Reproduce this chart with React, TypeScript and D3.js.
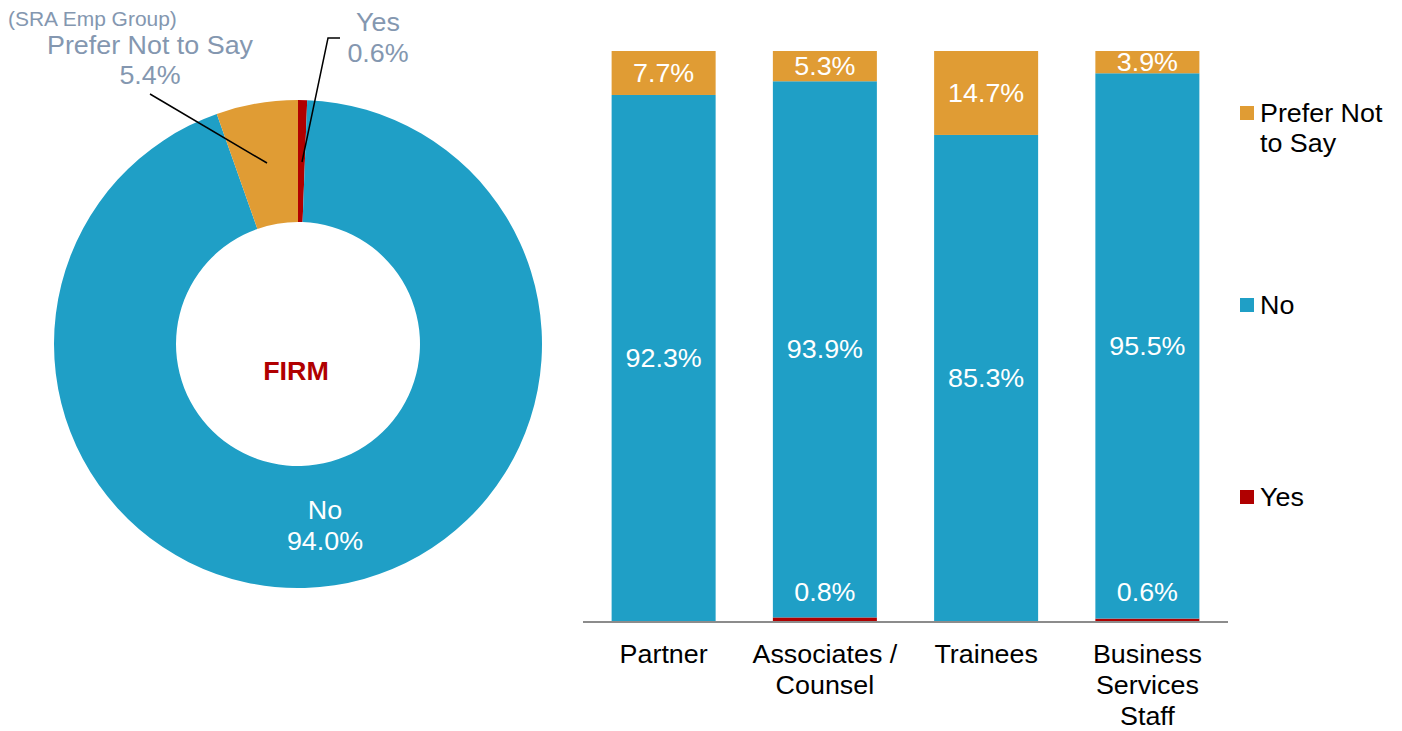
import * as d3 from "d3";

// donut (whole firm)
const pieCategories = ["Yes", "No", "Prefer Not to Say"];
const pieValues = [0.6, 94.0, 5.4];

// stacked bars by group
const groups = ["Partner", "Associates / Counsel", "Trainees", "Business Services Staff"];
const groupLines = [["Partner"], ["Associates /", "Counsel"], ["Trainees"], ["Business", "Services", "Staff"]];
const yesValues = [0, 0.8, 0, 0.6];
const noValues = [92.3, 93.9, 85.3, 95.5];
const preferValues = [7.7, 5.3, 14.7, 3.9];

const seriesKeys = ["Yes", "No", "Prefer Not to Say"];
const legendLines = [["Yes"], ["No"], ["Prefer Not", "to Say"]];

const colors: { [k: string]: string } = {
  Yes: "#b00000",
  No: "#1f9fc6",
  "Prefer Not to Say": "#e09c34",
};

const FONT = "'Liberation Sans', Arial, sans-serif";
const GREY = "#8497b0";
const SX = 1.075; // the original text is slightly wide

// text drawn a touch wider than the font, like the source
const T = (props: {
  x: number;
  y: number;
  children: any;
  size?: number;
  fill?: string;
  anchor?: string;
  weight?: string;
}) => (
  <text
    transform={`translate(${props.x},${props.y}) scale(${SX},1)`}
    fontSize={props.size || 25}
    fill={props.fill || "#000"}
    textAnchor={props.anchor || "middle"}
    fontWeight={props.weight || "normal"}
  >
    {props.children}
  </text>
);

export default function App() {
  const width = 1402;
  const height = 731;

  // donut geometry
  const cx = 298;
  const cy = 344;
  const pie = d3
    .pie<number>()
    .sort(null)
    .value((d) => d);
  const slices = pie(pieValues);
  const arc = d3.arc<d3.PieArcDatum<number>>().innerRadius(122).outerRadius(244);

  // bar geometry
  const x = d3.scaleBand().domain(groups).range([583, 1228]).paddingInner(0.355).paddingOuter(0.1775);
  const y = d3.scaleLinear().domain([0, 100]).range([622, 51]);

  const table = groups.map((g, i) => ({
    group: g,
    Yes: yesValues[i],
    No: noValues[i],
    "Prefer Not to Say": preferValues[i],
  }));
  const stack = d3.stack<any>().keys(seriesKeys)(table);

  const fmt = (v: number) => v.toFixed(1) + "%";

  return (
    <svg width={width} height={height} style={{ display: "block", position: "absolute", left: 0, top: 0 }} fontFamily={FONT}>
      {/* donut */}
      <g transform={`translate(${cx},${cy})`}>
        {slices.map((s, i) => (
          <path key={i} d={arc(s) as string} fill={colors[pieCategories[i]]} />
        ))}
      </g>
      <T x={cx - 2} y={380} weight="bold" fill="#b00000">
        FIRM
      </T>
      <T x={325} y={519} fill="#fff">
        No
      </T>
      <T x={325} y={550} fill="#fff">
        {fmt(pieValues[1])}
      </T>

      {/* outside labels */}
      <T x={8} y={26} size={19.5} fill={GREY} anchor="start">
        (SRA Emp Group)
      </T>
      <T x={150} y={54} fill={GREY}>
        Prefer Not to Say
      </T>
      <T x={150} y={84} fill={GREY}>
        {fmt(pieValues[2])}
      </T>
      <polyline points="150,94 267,163" fill="none" stroke="#000" strokeWidth={1.5} />
      <T x={378} y={31} fill={GREY}>
        Yes
      </T>
      <T x={378} y={62} fill={GREY}>
        {fmt(pieValues[0])}
      </T>
      <polyline points="340,38 328,38 302,162" fill="none" stroke="#000" strokeWidth={1.5} />

      {/* stacked bars */}
      {stack.map((layer) => (
        <g key={layer.key}>
          {layer.map((d, i) => (
            <rect
              key={i}
              x={x(groups[i])}
              y={y(d[1])}
              width={x.bandwidth()}
              height={Math.max(0, y(d[0]) - y(d[1]))}
              fill={colors[layer.key]}
            />
          ))}
        </g>
      ))}
      {/* bar labels */}
      {table.map((row, i) => {
        const cxBar = (x(row.group) as number) + x.bandwidth() / 2;
        const noMid = y(row.Yes + row.No / 2);
        const prMid = y(row.Yes + row.No + row["Prefer Not to Say"] / 2);
        return (
          <g key={row.group}>
            <T x={cxBar} y={noMid + 9} fill="#fff">
              {fmt(row.No)}
            </T>
            <T x={cxBar} y={prMid + 9} fill="#fff">
              {fmt(row["Prefer Not to Say"])}
            </T>
            {row.Yes > 0 && (
              <T x={cxBar} y={y(0) - 21} fill="#fff">
                {fmt(row.Yes)}
              </T>
            )}
          </g>
        );
      })}
      <line x1={583} x2={1228} y1={y(0)} y2={y(0)} stroke="#8c8c8c" strokeWidth={2} />
      {groupLines.map((lines, i) =>
        lines.map((l, j) => (
          <T key={i + "-" + j} x={(x(groups[i]) as number) + x.bandwidth() / 2} y={663 + j * 31}>
            {l}
          </T>
        ))
      )}

      {/* legend */}
      {[
        { key: "Prefer Not to Say", y: 113 },
        { key: "No", y: 305 },
        { key: "Yes", y: 497 },
      ].map((item) => {
        const lines = legendLines[seriesKeys.indexOf(item.key)];
        return (
          <g key={item.key}>
            <rect x={1240} y={item.y - 7} width={14} height={14} fill={colors[item.key]} />
            {lines.map((l, j) => (
              <T key={j} x={1260} y={item.y + 9 + j * 30} anchor="start">
                {l}
              </T>
            ))}
          </g>
        );
      })}
    </svg>
  );
}
